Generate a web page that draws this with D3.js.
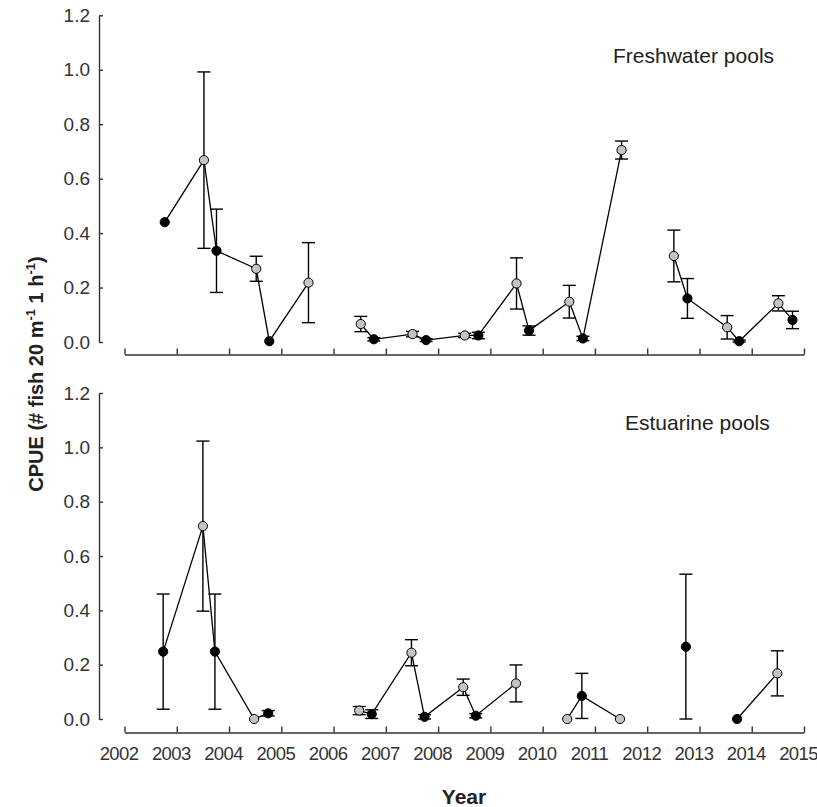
<!DOCTYPE html>
<html>
  <head>
    <style>
      body { margin: 0; background: #fff; }
      svg { font-family: "Liberation Sans", Arial, sans-serif; }
    </style>
  </head>
<body>
  <div id="chart"></div>

  <script src="https://d3js.org/d3.v7.min.js"></script>
  <script>

    // tick labels
    var years = d3.range(2002, 2016);
    var yTicks = [0, 0.2, 0.4, 0.6, 0.8, 1.0, 1.2];

    // Freshwater pools (dark = black marker, run = connected line group)
    var freshYear = [2002.77, 2003.52, 2003.76, 2004.52, 2004.77, 2005.52,
                     2006.52, 2006.77, 2007.51, 2007.77, 2008.51, 2008.77, 2009.50, 2009.74, 2010.51, 2010.77, 2011.51,
                     2012.51, 2012.77, 2013.53, 2013.76, 2014.51, 2014.78];
    var freshCPUE = [0.44, 0.668, 0.335, 0.269, 0.003, 0.218,
                     0.066, 0.010, 0.029, 0.007, 0.024, 0.024, 0.215, 0.042, 0.148, 0.013, 0.705,
                     0.316, 0.160, 0.054, 0.003, 0.142, 0.081];
    var freshSE   = [0, 0.324, 0.153, 0.046, 0, 0.147,
                     0.028, 0.006, 0.010, 0.005, 0.008, 0.012, 0.094, 0.017, 0.060, 0.008, 0.033,
                     0.095, 0.073, 0.043, 0.004, 0.028, 0.032];
    var freshDark = [1, 0, 1, 0, 1, 0,
                     0, 1, 0, 1, 0, 1, 0, 1, 0, 1, 0,
                     0, 1, 0, 1, 0, 1];
    var freshRun  = [1, 1, 1, 1, 1, 1,
                     2, 2, 2, 2, 2, 2, 2, 2, 2, 2, 2,
                     3, 3, 3, 3, 3, 3];

    // Estuarine pools
    var estYear = [2002.74, 2003.50, 2003.73, 2004.48, 2004.75,
                   2006.49, 2006.73, 2007.49, 2007.74, 2008.48, 2008.72, 2009.49,
                   2010.47, 2010.75, 2011.48,
                   2012.74,
                   2013.72, 2014.49];
    var estCPUE = [0.248, 0.71, 0.248, 0.0, 0.021,
                   0.031, 0.018, 0.244, 0.008, 0.117, 0.012, 0.131,
                   0.0, 0.085, 0.0,
                   0.266,
                   0.0, 0.168];
    var estSE   = [0.212, 0.313, 0.212, 0, 0.010,
                   0.015, 0.016, 0.048, 0.008, 0.030, 0.008, 0.068,
                   0, 0.083, 0,
                   0.267,
                   0, 0.083];
    var estDark = [1, 0, 1, 0, 1,
                   0, 1, 0, 1, 0, 1, 0,
                   0, 1, 0,
                   1,
                   1, 0];
    var estRun  = [1, 1, 1, 1, 1,
                   2, 2, 2, 2, 2, 2, 2,
                   3, 3, 3,
                   4,
                   5, 5];

    function rows(yr, v, se, dark, run) {
      return yr.map(function(d, i) {
        return {year: d, cpue: v[i], se: se[i], dark: dark[i], run: run[i]};
      });
    }

    var panels = [
      {name: "Freshwater pools", data: rows(freshYear, freshCPUE, freshSE, freshDark, freshRun),
       top: 15.3, bottom: 342, axisY: 354.5, labels: false, tx: 613, ty: 63},
      {name: "Estuarine pools", data: rows(estYear, estCPUE, estSE, estDark, estRun),
       top: 393, bottom: 719, axisY: 732.5, labels: true, tx: 625, ty: 430}
    ];

    var svg = d3.select("#chart")
      .append("svg")
      .attr("width", 817)
      .attr("height", 807);

    var x = d3.scaleLinear()
      .domain([2002, 2015])
      .range([124.5, 804]);

    panels.forEach(function(p) {
      var y = d3.scaleLinear()
        .domain([0, 1.2])
        .range([p.bottom, p.top]);

      // y axis, ticks pointing inward
      var ya = svg.append("g")
        .attr("transform", "translate(99,0)")
        .call(d3.axisLeft(y)
          .tickValues(yTicks)
          .tickFormat(d3.format(".1f"))
          .tickSizeInner(-4)
          .tickSizeOuter(0)
          .tickPadding(9));

      // x axis, offset below the plot
      var xa = svg.append("g")
        .attr("transform", "translate(0," + p.axisY + ")")
        .call(d3.axisBottom(x)
          .tickValues(years)
          .tickFormat(p.labels ? d3.format("d") : function() { return ""; })
          .tickSizeInner(-6)
          .tickSizeOuter(0)
          .tickPadding(14.5));

      [ya, xa].forEach(function(a) {
        a.select(".domain").attr("stroke", "#333").attr("stroke-width", 1.4);
        a.selectAll(".tick line").attr("stroke", "#333").attr("stroke-width", 1.4);
        a.selectAll("text")
          .attr("fill", "#333")
          .style("font-size", "19px")
          .style("font-family", "'Liberation Sans', Arial, sans-serif");
      });
      xa.selectAll("text")
        .attr("dx", -6)
        .style("font-size", "18.5px")
        .style("letter-spacing", "-0.6px");

      // error bars
      var eb = svg.append("g")
        .selectAll("g")
        .data(p.data.filter(function(d) { return d.se > 0; }))
        .enter()
        .append("g")
        .attr("stroke", "#000")
        .attr("stroke-width", 1.4);
      eb.append("line")
        .attr("x1", function(d) { return x(d.year); })
        .attr("x2", function(d) { return x(d.year); })
        .attr("y1", function(d) { return y(Math.max(0, d.cpue - d.se)); })
        .attr("y2", function(d) { return y(d.cpue + d.se); });
      eb.append("line")
        .attr("x1", function(d) { return x(d.year) - 6.5; })
        .attr("x2", function(d) { return x(d.year) + 6.5; })
        .attr("y1", function(d) { return y(d.cpue + d.se); })
        .attr("y2", function(d) { return y(d.cpue + d.se); });
      eb.append("line")
        .attr("x1", function(d) { return x(d.year) - 6.5; })
        .attr("x2", function(d) { return x(d.year) + 6.5; })
        .attr("y1", function(d) { return y(Math.max(0, d.cpue - d.se)); })
        .attr("y2", function(d) { return y(Math.max(0, d.cpue - d.se)); });

      // connecting lines
      var line = d3.line()
        .x(function(d) { return x(d.year); })
        .y(function(d) { return y(d.cpue); });
      svg.append("g")
        .selectAll("path")
        .data(d3.groups(p.data, function(d) { return d.run; }))
        .enter()
        .append("path")
        .attr("d", function(g) { return line(g[1]); })
        .attr("fill", "none")
        .attr("stroke", "#000")
        .attr("stroke-width", 1.3);

      // markers
      svg.append("g")
        .selectAll("circle")
        .data(p.data)
        .enter()
        .append("circle")
        .attr("cx", function(d) { return x(d.year); })
        .attr("cy", function(d) { return y(d.cpue); })
        .attr("r", 4.6)
        .attr("fill", function(d) { return d.dark ? "#000" : "#c4c4c4"; })
        .attr("stroke", "#000")
        .attr("stroke-width", 1);

      svg.append("text")
        .attr("x", p.tx)
        .attr("y", p.ty)
        .attr("fill", "#222")
        .style("font-size", "21px")
        .text(p.name);
    });

    // axis titles
    svg.append("text")
      .attr("x", 464)
      .attr("y", 804)
      .attr("text-anchor", "middle")
      .attr("fill", "#222")
      .style("font-size", "21px")
      .style("font-weight", "bold")
      .text("Year");

    var yl = svg.append("text")
      .attr("transform", "translate(43,374) rotate(-90)")
      .attr("text-anchor", "middle")
      .attr("fill", "#222")
      .style("font-size", "20px")
      .style("font-weight", "bold");
    yl.append("tspan").text("CPUE (# fish 20 m");
    yl.append("tspan").attr("dy", -8).style("font-size", "13px").text("-1");
    yl.append("tspan").attr("dy", 8).text(" 1 h");
    yl.append("tspan").attr("dy", -8).style("font-size", "13px").text("-1");
    yl.append("tspan").attr("dy", 8).text(")");

  </script>
</body>
</html>
